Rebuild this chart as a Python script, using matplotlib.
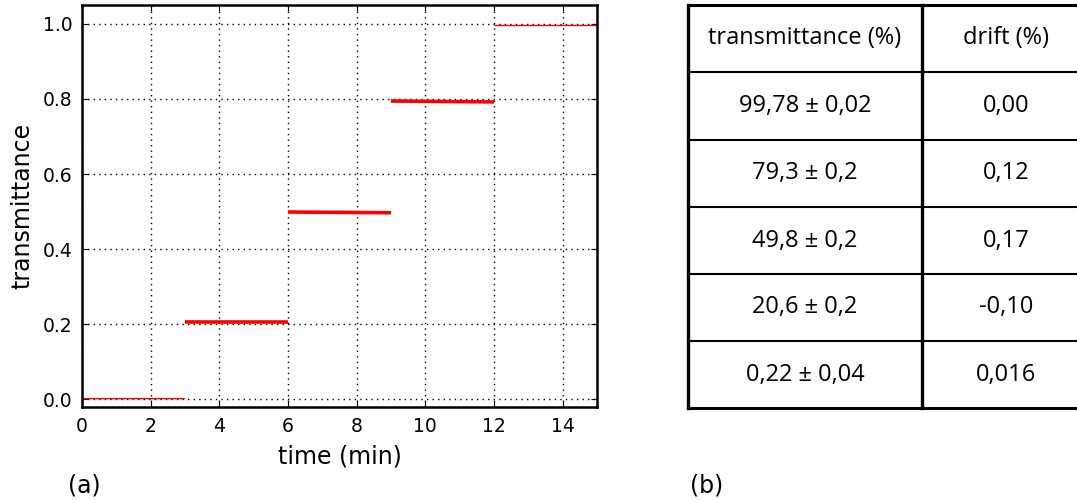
import numpy as np
import matplotlib.pyplot as plt
from matplotlib.lines import Line2D

# plateau data, one step every 3 minutes
t_start = [0, 3, 6, 9, 12]
t_end = [3, 6, 9, 12, 15]
level_start = [0.0022, 0.2063, 0.4990, 0.7945, 0.9978]
level_end = [0.0023, 0.2062, 0.4970, 0.7920, 0.9978]
seg_width = [1.0, 2.6, 2.6, 2.6, 1.0]

# table contents
col_headers = ["transmittance (%)", "drift (%)"]
trans_vals = ["99,78 \u00b1 0,02", "79,3 \u00b1 0,2", "49,8 \u00b1 0,2",
              "20,6 \u00b1 0,2", "0,22 \u00b1 0,04"]
drift_vals = ["0,00", "0,12", "0,17", "-0,10", "0,016"]

fig = plt.figure(figsize=(10.77, 5), dpi=100)
ax = fig.add_axes([0.0761, 0.186, 0.4782, 0.804])

for a, b, y0, y1, w in zip(t_start, t_end, level_start, level_end, seg_width):
    ax.plot([a, b], [y0, y1], color='red', lw=w, solid_capstyle='butt')

ax.set_xlim(0, 15)
ax.set_ylim(-0.02, 1.05)
ax.set_xticks(np.arange(0, 15, 2))
ax.set_yticks(np.arange(0, 1.01, 0.2))
ax.grid(True, color='black', linestyle=(0, (1, 3)), linewidth=1.0)
ax.tick_params(direction='in', top=True, right=True, length=4, labelsize=13.5, pad=7)
for s in ax.spines.values():
    s.set_linewidth(1.8)
ax.set_xlabel("time (min)", fontsize=17, labelpad=6)
ax.set_ylabel("transmittance", fontsize=17, labelpad=6)

fig.text(68 / 1077, 1 - 485 / 500, "(a)", fontsize=17, va='center', ha='left')
fig.text(690 / 1077, 1 - 485 / 500, "(b)", fontsize=17, va='center', ha='left')

# table drawn in figure pixel coordinates
W, H = 1077.0, 500.0
x_left, x_mid, x_right = 688, 922, 1085
y_rows = [5, 72, 140, 207, 274, 341, 408]


def fline(x0, y0, x1, y1, lw):
    fig.add_artist(Line2D([x0 / W, x1 / W], [1 - y0 / H, 1 - y1 / H],
                          color='black', lw=lw, transform=fig.transFigure))


for y in y_rows:
    lw = 2.2 if y in (y_rows[0], y_rows[-1]) else 1.5
    fline(x_left, y, x_right, y, lw)
fline(x_left, y_rows[0], x_left, y_rows[-1], 2.4)
fline(x_mid, y_rows[0], x_mid, y_rows[-1], 2.4)

tfont = dict(family='Open Sans', fontsize=17, ha='center', va='center')
cx1 = (x_left + x_mid) / 2
cells = [col_headers] + [list(r) for r in zip(trans_vals, drift_vals)]
for i, (c1, c2) in enumerate(cells):
    yc = (y_rows[i] + y_rows[i + 1]) / 2
    fig.text(cx1 / W, 1 - yc / H, c1, **tfont)
    fig.text(1006 / W, 1 - yc / H, c2, **tfont)

fig.savefig("out.png", dpi=100)
